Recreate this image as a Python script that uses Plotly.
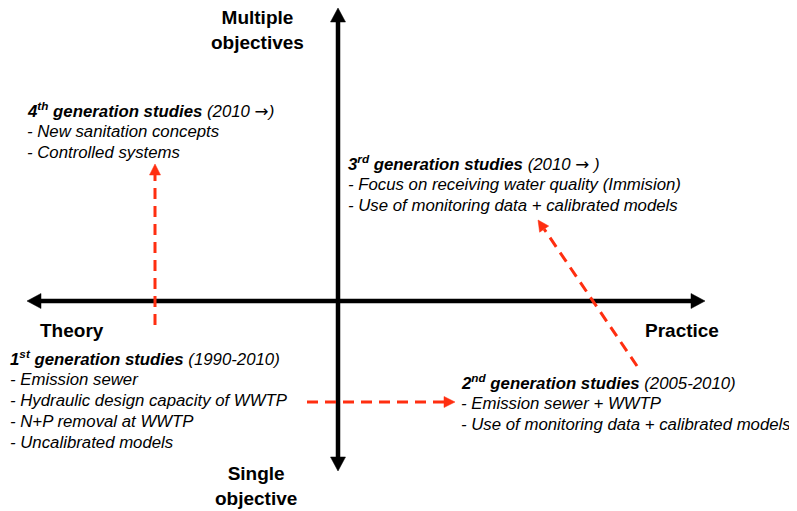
import math
import plotly.graph_objects as go

# ---- content ----
axis_labels = ["Multiple<br>objectives", "Single<br>objective", "Theory", "Practice"]
axis_label_x = [257, 256, 72, 682]
axis_label_y = [30, 486, 330, 330]

gen_ordinals = ["4", "3", "1", "2"]
gen_sups = ["th", "rd", "st", "nd"]
gen_periods = ["(2010 \u2192)", "(2010 \u2192 )", "(1990-2010)", "(2005-2010)"]
gen_items = [
    ["New sanitation concepts", "Controlled systems"],
    ["Focus on receiving water quality (Immision)", "Use of monitoring data + calibrated models"],
    ["Emission sewer", "Hydraulic design capacity of WWTP", "N+P removal at WWTP", "Uncalibrated models"],
    ["Emission sewer + WWTP", "Use of monitoring data + calibrated models"],
]
gen_x = [25, 346, 8, 459]
gen_y = [110, 163, 358, 382]
line_gap = 21

# black axes (start -> tip)
axes_from = [(338, 458), (338, 20), (40, 301), (692, 301)]
axes_to = [(338, 8), (338, 471), (27, 301), (705, 301)]
# red dashed transitions (start -> tip)
trans_from = [(155, 325), (307, 402), (637, 366)]
trans_to = [(155, 164), (455, 402), (538, 220)]

RED = "#FF2E10"
FONT = "Liberation Sans, Arial, sans-serif"
OFF = 8  # page body margin
BODY = 16.8

fig = go.Figure()
shapes = []
annotations = []


def head(x0, y0, x1, y1, L, W, color):
    dx, dy = x1 - x0, y1 - y0
    n = math.hypot(dx, dy)
    ux, uy = dx / n, dy / n
    px, py = -uy, ux
    bx, by = x1 - L * ux, y1 - L * uy
    pts = [(x1, y1), (bx + W / 2 * px, by + W / 2 * py), (bx - W / 2 * px, by - W / 2 * py)]
    path = "M " + " L ".join(f"{a:.2f},{b:.2f}" for a, b in pts) + " Z"
    shapes.append(dict(type="path", path=path, xref="x", yref="y",
                       fillcolor=color, line=dict(color=color, width=0.5), layer="above"))
    return bx, by


# black axes: two full lines, each with two heads
shapes.append(dict(type="line", x0=338, y0=458, x1=338, y1=20, xref="x", yref="y",
                   line=dict(color="black", width=4.5)))
shapes.append(dict(type="line", x0=40, y0=301, x1=692, y1=301, xref="x", yref="y",
                   line=dict(color="black", width=4.5)))
for (x0, y0), (x1, y1) in zip(axes_from, axes_to):
    head(x0, y0, x1, y1, 14, 15, "black")

# red dashed arrows
for (x0, y0), (x1, y1) in zip(trans_from, trans_to):
    bx, by = head(x0, y0, x1, y1, 11, 11, RED)
    shapes.append(dict(type="line", x0=x0, y0=y0, x1=bx, y1=by, xref="x", yref="y",
                       line=dict(color=RED, width=3, dash="11px,7px"), layer="above"))

# axis labels
for t, x, y in zip(axis_labels, axis_label_x, axis_label_y):
    annotations.append(dict(text=f"<b>{t}</b>", x=x, y=y, xref="x", yref="y",
                            showarrow=False, xanchor="center", yanchor="middle",
                            align="center", font=dict(family=FONT, size=19, color="black")))

# generation boxes
for o, s, p, items, x, y in zip(gen_ordinals, gen_sups, gen_periods, gen_items, gen_x, gen_y):
    p_html = p.replace("\u2192", '<span style="font-family:DejaVu Sans">\u2192</span>')
    title = f"<b><i>{o}<sup>{s}</sup> generation studies</i></b> <i>{p_html}</i>"
    annotations.append(dict(text=title, x=x, y=y, xref="x", yref="y", showarrow=False,
                            xanchor="left", yanchor="middle",
                            font=dict(family=FONT, size=BODY, color="black")))
    for k, it in enumerate(items):
        annotations.append(dict(text=f"<i>- {it}</i>", x=x, y=y + (k + 1) * line_gap,
                                xref="x", yref="y", showarrow=False,
                                xanchor="left", yanchor="middle",
                                font=dict(family=FONT, size=BODY, color="black")))

fig.update_layout(
    width=797 - OFF, height=511 - OFF, autosize=False,
    margin=dict(l=0, r=0, t=0, b=0),
    paper_bgcolor="white", plot_bgcolor="white",
    xaxis=dict(range=[OFF, 797], visible=False, fixedrange=True),
    yaxis=dict(range=[511, OFF], visible=False, fixedrange=True),
    shapes=shapes, annotations=annotations, showlegend=False,
)
fig.write_html("out.html")
